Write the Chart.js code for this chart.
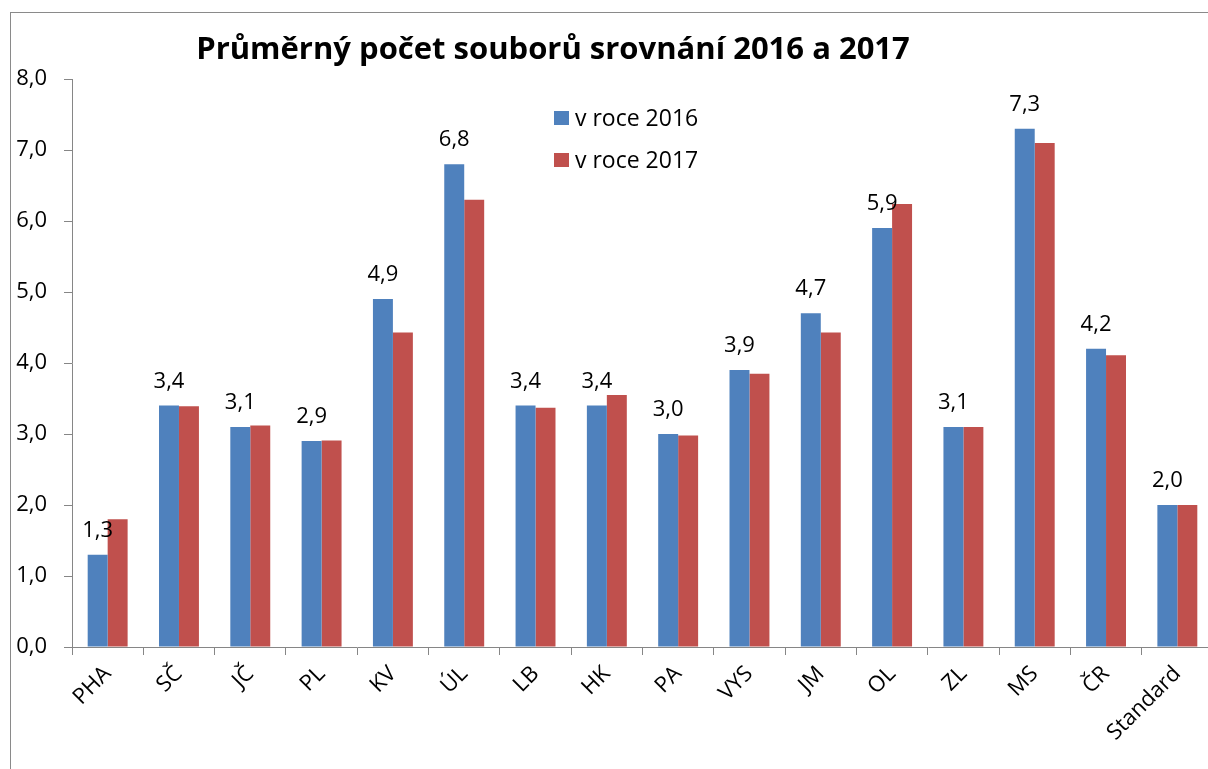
<!DOCTYPE html>
<html>
<head>
<meta charset="utf-8">
<script src="https://cdn.jsdelivr.net/npm/chart.js@4/dist/chart.umd.min.js"></script>
<style>
  html, body { margin: 0; padding: 0; background: #fff; overflow: hidden; width: 1208px; height: 769px; }
  #wrap { position: relative; width: 1208px; height: 769px; overflow: hidden; }
  canvas { position: absolute; left: 0; top: 0; }
  #frame { position: absolute; left: 10px; top: 12px; width: 1400px; height: 1000px;
           border-left: 1px solid #8a8a8a; border-top: 1px solid #8a8a8a; pointer-events: none; }
</style>
</head>
<body>
<div id="wrap">
  <canvas id="c" width="1240" height="769"></canvas>
  <div id="frame"></div>
</div>
<script>
const titleText = 'Průměrný počet souborů srovnání 2016 a 2017';
const categories = ['PHA', 'SČ', 'JČ', 'PL', 'KV', 'ÚL', 'LB', 'HK', 'PA', 'VYS', 'JM', 'OL', 'ZL', 'MS', 'ČR', 'Standard'];
const seriesNames = ['v roce 2016', 'v roce 2017'];
const values2016 = [1.3, 3.4, 3.1, 2.9, 4.9, 6.8, 3.4, 3.4, 3.0, 3.9, 4.7, 5.9, 3.1, 7.3, 4.2, 2.0];
const values2017 = [1.8, 3.39, 3.12, 2.91, 4.43, 6.30, 3.37, 3.55, 2.98, 3.85, 4.43, 6.24, 3.1, 7.1, 4.11, 2.0];
const yTicks = [0, 1, 2, 3, 4, 5, 6, 7, 8];

const FONT = '"Open Sans", "Noto Sans", sans-serif';
const fmt = v => Number(v).toFixed(1).replace('.', ',');

const titlePlugin = {
  id: 'customTitle',
  afterDraw(chart) {
    const ctx = chart.ctx;
    ctx.save();
    ctx.font = 'bold 31px ' + FONT;
    ctx.fillStyle = '#000';
    ctx.textAlign = 'center';
    ctx.textBaseline = 'alphabetic';
    ctx.fillText(titleText, 553, 59);
    ctx.restore();
  }
};

const labelPlugin = {
  id: 'dataLabels',
  afterDatasetsDraw(chart) {
    const ctx = chart.ctx;
    const meta = chart.getDatasetMeta(0);
    ctx.save();
    ctx.font = '22px ' + FONT;
    ctx.fillStyle = '#000';
    ctx.textAlign = 'center';
    ctx.textBaseline = 'alphabetic';
    meta.data.forEach((bar, i) => {
      ctx.fillText(fmt(chart.data.datasets[0].data[i]), bar.x, bar.y - 18);
    });
    ctx.restore();
  }
};

const legendPlugin = {
  id: 'customLegend',
  afterDraw(chart) {
    const ctx = chart.ctx;
    ctx.save();
    ctx.font = '23px ' + FONT;
    ctx.textAlign = 'left';
    ctx.textBaseline = 'middle';
    chart.data.datasets.forEach((ds, i) => {
      const y = 118 + i * 42;
      ctx.fillStyle = ds.backgroundColor;
      ctx.fillRect(554, y - 7, 15, 14);
      ctx.fillStyle = '#000';
      ctx.fillText(ds.label, 575, y + 1);
    });
    ctx.restore();
  }
};

new Chart(document.getElementById('c'), {
  type: 'bar',
  data: {
    labels: categories,
    datasets: [
      { label: seriesNames[0], data: values2016, backgroundColor: '#4F81BD', borderWidth: 0,
        categoryPercentage: 0.56, barPercentage: 1.0 },
      { label: seriesNames[1], data: values2017, backgroundColor: '#C0504D', borderWidth: 0,
        categoryPercentage: 0.56, barPercentage: 1.0 }
    ]
  },
  options: {
    responsive: false,
    animation: false,
    devicePixelRatio: 1,
    layout: { padding: { left: 0, top: 79, right: 27, bottom: 0 } },
    plugins: {
      legend: { display: false },
      title: { display: false },
      tooltip: { enabled: false }
    },
    scales: {
      x: {
        grid: { display: true, drawOnChartArea: false, offset: true, tickLength: 8, color: '#868686' },
        border: { display: true, color: '#868686', width: 1 },
        ticks: { color: '#000', font: { family: FONT, size: 22 }, minRotation: 45, maxRotation: 45,
                 autoSkip: false, padding: 6 },
        afterFit(scale) { scale.height = 122; }
      },
      y: {
        min: 0, max: 8,
        afterBuildTicks(scale) { scale.ticks = yTicks.map(v => ({ value: v })); },
        grid: { display: true, drawOnChartArea: false, tickLength: 8, color: '#868686' },
        border: { display: true, color: '#868686', width: 1 },
        ticks: { color: '#000', font: { family: FONT, size: 22 }, padding: 17,
                 callback: v => fmt(v) },
        afterFit(scale) { scale.width = 72; }
      }
    }
  },
  plugins: [titlePlugin, labelPlugin, legendPlugin]
});
</script>
</body>
</html>
